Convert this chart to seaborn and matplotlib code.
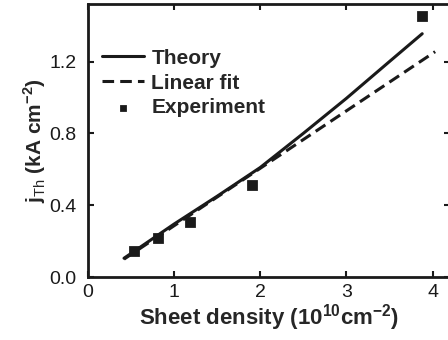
import matplotlib
matplotlib.use("Agg")
import matplotlib.pyplot as plt
import seaborn as sns
import numpy as np
import pandas as pd

# experiment points
exp_x = [0.54, 0.81, 1.19, 1.90, 3.88]
exp_y = [0.145, 0.215, 0.305, 0.51, 1.455]

# theory curve
th_x = [0.42, 1.0, 1.5, 2.0, 2.5, 3.0, 3.5, 3.88]
th_y = [0.105, 0.295, 0.45, 0.61, 0.80, 0.995, 1.20, 1.355]

# linear fit end points
fit_x = [0.42, 4.03]
fit_y = [0.10, 1.255]

sns.set_theme(style="ticks")
plt.rcParams['font.family'] = ['Liberation Sans', 'DejaVu Sans']
plt.rcParams['mathtext.fontset'] = 'custom'
plt.rcParams['mathtext.rm'] = 'Liberation Sans'
plt.rcParams['mathtext.bf'] = 'Liberation Sans:bold'

fig = plt.figure(figsize=(4.48, 3.4), dpi=100)
ax = fig.add_axes([0.196, 0.185, 0.808, 0.803])

sns.lineplot(x=th_x, y=th_y, ax=ax, color='#1a1a1a', lw=2.2, label='Theory')
sns.lineplot(x=fit_x, y=fit_y, ax=ax, color='#1a1a1a', lw=2.2, label='Linear fit')
ax.lines[-1].set_dashes([3.8, 2])
sns.scatterplot(x=exp_x, y=exp_y, ax=ax, color='#1a1a1a', marker='s', s=50,
                edgecolor='#1a1a1a', label='Experiment', zorder=5)

ax.set_xlim(0, 4.2)
ax.set_ylim(0, 1.52)
ax.set_xticks([0, 1, 2, 3, 4])
ax.set_yticks([0.0, 0.4, 0.8, 1.2])
ax.set_yticklabels(['0.0', '0.4', '0.8', '1.2'])
ax.tick_params(direction='in', length=4, width=1.5, labelsize=14, colors='#1a1a1a',
               top=True, right=True)
ax.tick_params(axis='x', pad=5)
ax.tick_params(axis='y', pad=8)
for s in ax.spines.values():
    s.set_linewidth(2)
    s.set_color('#1a1a1a')

ax.set_xlabel(r'Sheet density (10$^{\mathbf{10}}$cm$^{\mathbf{-2}}$)', fontsize=16,
              fontweight='bold', labelpad=1)
ax.set_ylabel(r'j$_{\mathrm{Th}}$ (kA cm$^{\mathbf{-2}}$)', fontsize=15,
              fontweight='bold', labelpad=1)

leg = ax.legend(loc='upper left', bbox_to_anchor=(0.0, 0.89), frameon=False,
                prop={'weight': 'bold', 'size': 15}, handlelength=2.0,
                handletextpad=0.35, labelspacing=0.28, borderaxespad=0.3)
leg.legend_handles[2].set_sizes([25])

fig.savefig('out.png', dpi=100)
